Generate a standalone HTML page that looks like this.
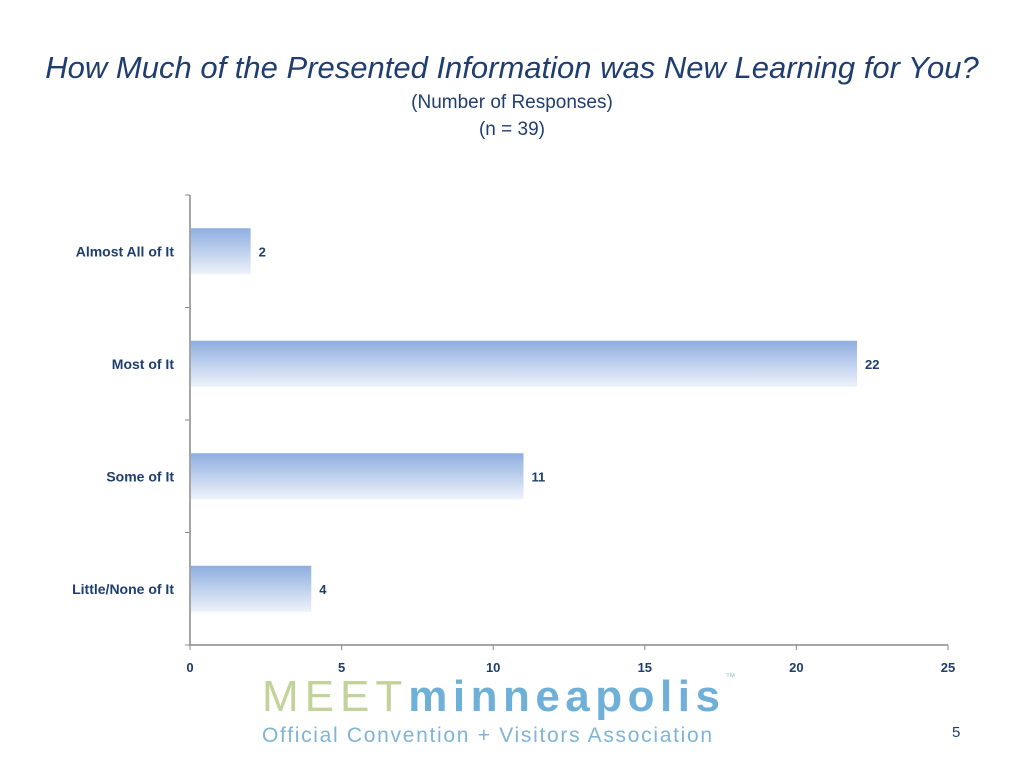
<!DOCTYPE html>
<html><head><meta charset="utf-8"><style>
body{margin:0;width:1024px;height:768px;background:#fff;font-family:"Liberation Sans",sans-serif;overflow:hidden;position:relative}
.t{position:absolute;left:0;width:1024px;text-align:center;color:#1f3d6e}
</style></head><body>
<div class="t" style="top:50px;font-size:31px;font-style:italic;left:0">How Much of the Presented Information was New Learning for You?</div>
<div class="t" style="top:92px;font-size:19px;left:0">(Number of Responses)</div>
<div class="t" style="top:119px;font-size:19px;left:0">(n = 39)</div>
<svg id="c" width="1024" height="768" style="position:absolute;left:0;top:0">
<defs><linearGradient id="g" x1="0" y1="0" x2="0" y2="1"><stop offset="0" stop-color="#8eaee0"/><stop offset="1" stop-color="#eef2fa"/></linearGradient></defs>
</svg>
<div style="position:absolute;left:262px;top:672px;font-size:44px;white-space:nowrap"><span style="color:#c2d39a;letter-spacing:6px">MEET</span><span style="color:#6fb0d8;font-weight:bold;letter-spacing:5.5px">minneapolis</span><span style="color:#9cc;font-size:10px;vertical-align:top">™</span></div>
<div style="position:absolute;left:262px;top:724px;font-size:21px;color:#7fb4d4;letter-spacing:1.7px;white-space:nowrap">Official Convention + Visitors Association</div>
<div style="position:absolute;left:952px;top:724px;font-size:15px;color:#1f3d6e">5</div>
<script>
const categories=["Almost All of It","Most of It","Some of It","Little/None of It"];
const values=[2,22,11,4];
const ticks=[0,5,10,15,20,25];
const svg=document.getElementById('c');const NS="http://www.w3.org/2000/svg";
const x0=190,x1=948,yT=195,yB=645,max=25;
const xs=v=>x0+(x1-x0)*v/max;const band=(yB-yT)/categories.length;
function el(t,a,txt){const e=document.createElementNS(NS,t);for(const k in a)e.setAttribute(k,a[k]);if(txt!=null)e.textContent=txt;svg.appendChild(e);return e;}
let ax=el('line',{x1:x0,y1:yT,x2:x0,y2:yB,stroke:'#888','stroke-width':1.5});


let bx=el('line',{x1:x0,y1:yB,x2:x1,y2:yB,stroke:'#888','stroke-width':1.5});


for(let i=0;i<=categories.length;i++){el('line',{x1:x0-5,x2:x0,y1:yT+i*band,y2:yT+i*band,stroke:'#888'});}
ticks.forEach(t=>{el('line',{x1:xs(t),x2:xs(t),y1:yB,y2:yB+5,stroke:'#888'});
const l=el('text',{x:xs(t),y:yB+27,'text-anchor':'middle','font-size':13,'font-weight':'bold',fill:'#1f3d6e'},t);

});
categories.forEach((c,i)=>{const cy=yT+band*(i+0.5);
const r=el('rect',{x:x0+1,y:cy-23,width:xs(values[i])-x0-1,height:46,fill:'url(#g)'});


const v=el('text',{x:xs(values[i])+8,y:cy+5,'font-size':13,'font-weight':'bold',fill:'#1f3d6e'},values[i]);


const l=el('text',{x:x0-16,y:cy+5,'text-anchor':'end','font-size':14,'font-weight':'bold',fill:'#1f3d6e'},c);

});
</script>
</body></html>
